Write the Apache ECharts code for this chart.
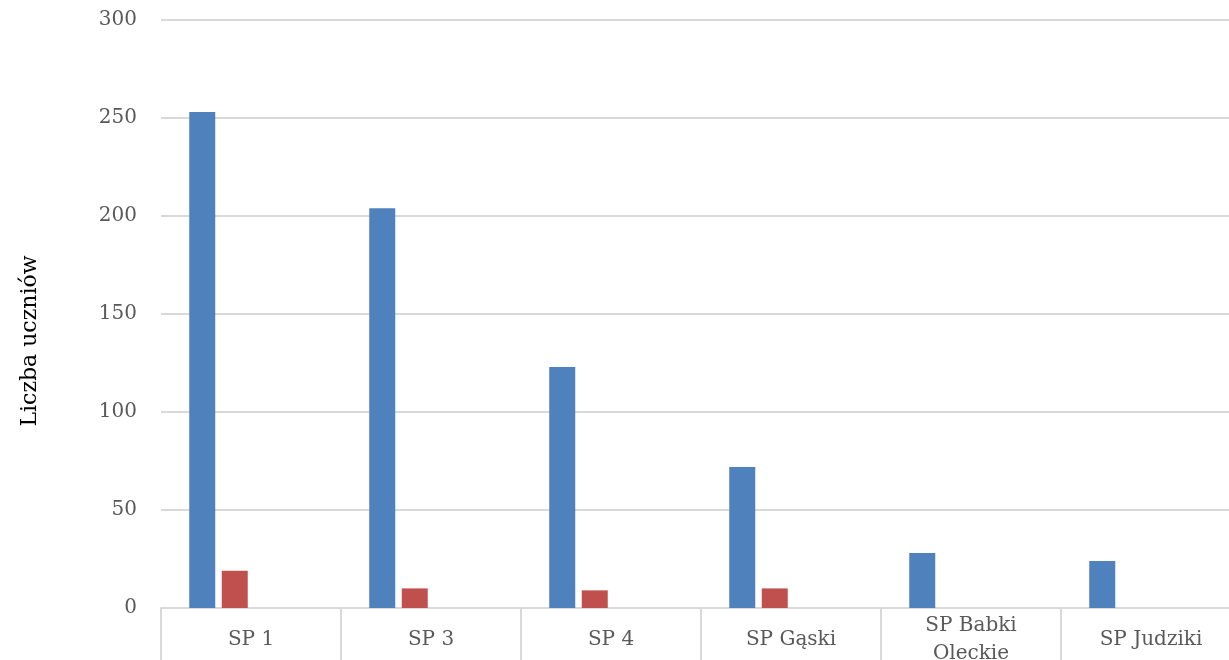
<!DOCTYPE html>
<html>
<head>
<meta charset="utf-8">
<script src="https://cdn.jsdelivr.net/npm/echarts@6/dist/echarts.min.js"></script>
<style>
  html, body { margin: 0; padding: 0; background: #fff; }
  #chart { width: 1229px; height: 660px; }
</style>
</head>
<body>
<div id="chart"></div>
<script>
const categories = ['SP 1', 'SP 3', 'SP 4', 'SP Gąski', 'SP Babki\nOleckie', 'SP Judziki'];
const seriesA = [253, 204, 123, 72, 28, 24];
const seriesB = [19, 10, 9, 10, '-', '-'];
const seriesC = ['-', '-', '-', '-', '-', '-'];
const seriesD = ['-', '-', '-', '-', '-', '-'];
const yTicks = [0, 50, 100, 150, 200, 250, 300];

const fontFamily = 'DejaVu Serif';
const textColor = '#595959';
const lineColor = '#d9d9d9';

function barSeries(data, color) {
  return {
    type: 'bar',
    data: data,
    barWidth: 26,
    barGap: '25%',
    itemStyle: { color: color },
    silent: true
  };
}

const chart = echarts.init(document.getElementById('chart'));
chart.setOption({
  animation: false,
  backgroundColor: '#fff',
  grid: {
    left: 161,
    right: -12,
    top: 20,
    bottom: 52,
    containLabel: false,
    outerBoundsMode: 'none'
  },
  xAxis: {
    type: 'category',
    data: categories,
    boundaryGap: true,
    axisLine: { lineStyle: { color: lineColor, width: 2 } },
    axisTick: {
      show: true,
      interval: 0,
      length: 60,
      lineStyle: { color: lineColor, width: 2 }
    },
    axisLabel: {
      interval: 0,
      margin: 32,
      verticalAlign: 'middle',
      color: textColor,
      fontFamily: fontFamily,
      fontSize: 20,
      lineHeight: 28
    }
  },
  yAxis: {
    type: 'value',
    min: yTicks[0],
    max: yTicks[yTicks.length - 1],
    interval: 50,
    axisLine: { show: false },
    axisTick: { show: false },
    splitLine: { lineStyle: { color: lineColor, width: 2 } },
    axisLabel: {
      margin: 24,
      color: textColor,
      fontFamily: fontFamily,
      fontSize: 20
    }
  },
  graphic: [{
    type: 'text',
    x: 30,
    y: 341,
    rotation: Math.PI / 2,
    style: {
      text: 'Liczba uczniów',
      fill: '#000',
      font: '22px "DejaVu Serif"',
      textAlign: 'center',
      textVerticalAlign: 'middle'
    }
  }],
  series: [
    barSeries(seriesA, '#4f81bd'),
    barSeries(seriesB, '#c0504d'),
    barSeries(seriesC, '#9bbb59'),
    barSeries(seriesD, '#8064a2')
  ]
});
</script>
</body>
</html>
